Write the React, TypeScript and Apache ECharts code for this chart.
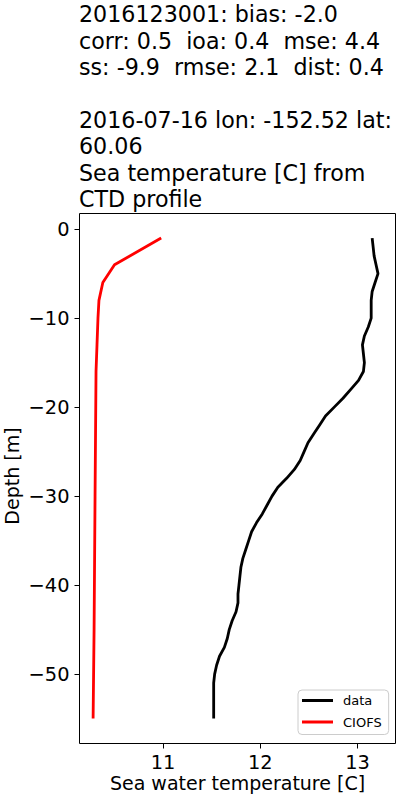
import React, { useEffect, useRef } from 'react';
import * as echarts from 'echarts';

const titleLines = [
  '2016123001: bias: -2.0',
  'corr: 0.5  ioa: 0.4  mse: 4.4',
  'ss: -9.9  rmse: 2.1  dist: 0.4',
  '',
  '2016-07-16 lon: -152.52 lat:',
  '60.06',
  'Sea temperature [C] from',
  'CTD profile',
];

const xLabel = 'Sea water temperature [C]';
const yLabel = 'Depth [m]';
const seriesNames = ['data', 'CIOFS'];

const dataDepth = [
  -1, -2, -3, -4, -5, -6, -7, -8, -9, -10, -11, -12, -13, -14, -15, -16, -17, -18, -19, -20,
  -21, -22, -23, -24, -25, -26, -27, -28, -29, -30, -31, -32, -33, -34, -35, -36, -37, -38, -39, -40,
  -41, -42, -43, -44, -45, -46, -47, -48, -49, -50, -51, -52, -53, -54, -55,
];
const dataTemp = [
  13.15, 13.16, 13.17, 13.19, 13.21, 13.18, 13.15, 13.14, 13.14, 13.14, 13.11, 13.07, 13.05, 13.06, 13.07, 13.06, 13.01, 12.93, 12.85, 12.76,
  12.67, 12.61, 12.55, 12.49, 12.45, 12.41, 12.35, 12.27, 12.18, 12.12, 12.07, 12.02, 11.96, 11.91, 11.88, 11.85, 11.82, 11.80, 11.79, 11.78,
  11.77, 11.77, 11.75, 11.71, 11.68, 11.66, 11.63, 11.58, 11.55, 11.53, 11.52, 11.52, 11.52, 11.52, 11.52,
];

const ciofsDepth = [-1, -4, -6, -8, -10, -13, -16, -30, -45, -55];
const ciofsTemp = [10.98, 10.5, 10.38, 10.34, 10.33, 10.32, 10.31, 10.3, 10.29, 10.28];

const xTicks = [11, 12, 13];
const yTicks = [0, -10, -20, -30, -40, -50];

export default function App() {
  const ref = useRef<HTMLDivElement>(null);
  useEffect(() => {
    document.body.style.margin = '0';
    const chart = echarts.init(ref.current!, null, { renderer: 'svg' });
    const font = 'DejaVu Sans';
    const fmt = (v: number) => (v < 0 ? '\u2212' + Math.abs(v) : String(v));
    chart.setOption({
      animation: false,
      backgroundColor: '#ffffff',
      textStyle: { fontFamily: font },
      grid: {
        left: 79.5,
        top: 213.5,
        right: 4.5,
        bottom: 56.5,
        show: true,
        borderColor: '#000',
        borderWidth: 1,
        backgroundColor: 'transparent',
      },
      xAxis: {
        type: 'value',
        min: 10.14,
        max: 13.39,
        splitLine: { show: false },
        axisLine: { show: false, onZero: false },
        axisTick: { show: true, length: 5, customValues: xTicks, lineStyle: { color: '#000', width: 1 } },
        axisLabel: { customValues: xTicks, fontSize: 19.4, color: '#000', margin: 9, fontFamily: font },
      },
      yAxis: {
        type: 'value',
        min: -57.8,
        max: 1.76,
        splitLine: { show: false },
        axisLine: { show: false, onZero: false },
        axisTick: { show: true, length: 5, customValues: yTicks, lineStyle: { color: '#000', width: 1 } },
        axisLabel: { customValues: yTicks, fontSize: 19.4, color: '#000', margin: 10, fontFamily: font, formatter: fmt },
      },
      legend: {
        orient: 'vertical',
        left: 298,
        top: 690,
        padding: [4, 7, 6, 4],
        itemGap: 8.5,
        itemWidth: 31,
        itemHeight: 3,
        icon: 'rect',
        backgroundColor: 'rgba(255,255,255,0.8)',
        borderColor: '#cccccc',
        borderWidth: 1,
        borderRadius: 4,
        textStyle: { fontSize: 13, color: '#000', fontFamily: font, padding: [0, 0, 0, 5] },
        data: seriesNames,
      },
      graphic: [
        {
          type: 'text',
          left: 79,
          top: 1,
          style: {
            text: titleLines.join('\n'),
            fontSize: 22.2,
            lineHeight: 26.4,
            fontFamily: font,
            fill: '#000',
          },
        },
        {
          type: 'text',
          x: 12,
          y: 476,
          rotation: Math.PI / 2,
          style: {
            text: yLabel,
            fontSize: 19,
            fontFamily: font,
            fill: '#000',
            align: 'center',
            verticalAlign: 'middle',
          },
        },
        {
          type: 'text',
          x: 237.5,
          y: 783,
          style: {
            text: xLabel,
            fontSize: 19,
            fontFamily: font,
            fill: '#000',
            align: 'center',
            verticalAlign: 'middle',
          },
        },
      ],
      series: [
        {
          name: seriesNames[0],
          type: 'line',
          data: dataTemp.map((t, i) => [t, dataDepth[i]]),
          symbol: 'none',
          color: '#000000',
          lineStyle: { color: '#000000', width: 2.8 },
        },
        {
          name: seriesNames[1],
          type: 'line',
          data: ciofsTemp.map((t, i) => [t, ciofsDepth[i]]),
          symbol: 'none',
          color: '#ff0000',
          lineStyle: { color: '#ff0000', width: 2.8 },
        },
      ],
    });
    return () => chart.dispose();
  }, []);
  return <div ref={ref} style={{ width: 400, height: 800 }} />;
}
